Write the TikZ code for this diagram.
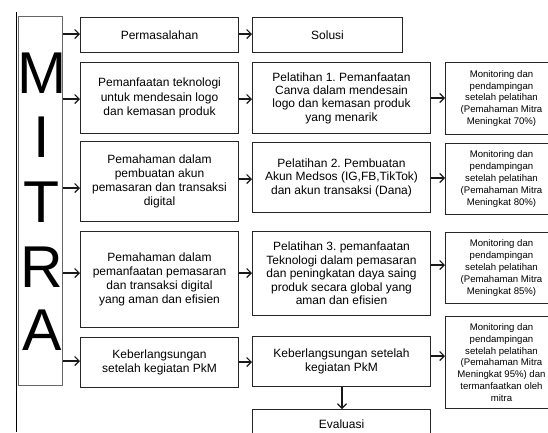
\documentclass[tikz,border=0pt]{standalone}
\usepackage{fontspec}
\setmainfont{Liberation Sans}
\usetikzlibrary{arrows.meta}
\frenchspacing
\begin{document}
\begin{tikzpicture}[x=1pt,y=-1pt,
  box/.style={draw=black!85,line width=1pt,anchor=north west,inner sep=1pt,align=center,font=\fontsize{12}{14.2}\selectfont},
  sbox/.style={draw=black!85,line width=1pt,anchor=north west,inner sep=1pt,align=center,font=\fontsize{9.6}{11.9}\selectfont},
  arr/.style={-{Straight Barb[length=4.5pt,width=9pt]},line width=1.1pt,black!90},
  big/.style={anchor=base,inner sep=0pt,font=\fontsize{59}{59}\selectfont}]
\useasboundingbox (0,0) rectangle (548,432);
\fill[white] (0,0) rectangle (548,432);
\draw[line width=0.9pt] (16,12) -- (16,432);
% MITRA
\node[draw=black!60,line width=0.8pt,anchor=north west,minimum width=44pt,minimum height=369pt,inner sep=0pt] (mitra) at (18,16) {};
\node[big] (lm) at (42,93) {M};
\node[big] (li) at (42,157) {I};
\node[big] (lt) at (42,222) {T};
\node[big] (lr) at (42,287) {R};
\node[big] (la) at (42,350) {A};
% column 1
\node[box,minimum width=158pt,minimum height=35pt] (a1) at (80,17) {Permasalahan};
\node[box,minimum width=158pt,minimum height=71pt] (a2) at (80,62) {Pemanfaatan teknologi\\untuk mendesain logo\\dan kemasan produk};
\node[box,minimum width=158pt,minimum height=80pt] (a3) at (80,141) {Pemahaman dalam\\pembuatan akun\\pemasaran dan transaksi\\digital};
\node[box,minimum width=158pt,minimum height=96pt] (a4) at (80,231) {Pemahaman dalam\\pemanfaatan pemasaran\\dan transaksi digital\\yang aman dan efisien};
\node[box,minimum width=158pt,minimum height=50pt] (a5) at (80,337) {Keberlangsungan\\setelah kegiatan PkM};
% column 2
\node[box,minimum width=150pt,minimum height=35pt] (b1) at (252,17) {Solusi};
\node[box,minimum width=178pt,minimum height=71pt,font=\fontsize{12}{13.4}\selectfont] (b2) at (252,62) {Pelatihan 1. Pemanfaatan\\Canva dalam mendesain\\logo dan kemasan produk\\yang menarik};
\node[box,minimum width=178pt,minimum height=70pt,font=\fontsize{12}{13.4}\selectfont] (b3) at (252,142) {Pelatihan 2. Pembuatan\\Akun Medsos (IG,FB,TikTok)\\dan akun transaksi (Dana)};
\node[box,minimum width=178pt,minimum height=84pt,font=\fontsize{12}{13.4}\selectfont] (b4) at (252,231) {Pelatihan 3. pemanfaatan\\Teknologi dalam pemasaran\\dan peningkatan daya saing\\produk secara global yang\\aman dan efisien};
\node[box,minimum width=178pt,minimum height=50pt,font=\fontsize{12}{14.6}\selectfont] (b5) at (252,336) {Keberlangsungan setelah\\kegiatan PkM};
\node[box,minimum width=178pt,minimum height=30pt] (ev) at (252,409) {Evaluasi};
% column 3
\node[sbox,minimum width=112pt,minimum height=72pt] (c2) at (445,62) {Monitoring dan\\pendampingan\\setelah pelatihan\\(Pemahaman Mitra\\Meningkat 70\%)};
\node[sbox,minimum width=112pt,minimum height=71pt] (c3) at (445,143) {Monitoring dan\\pendampingan\\setelah pelatihan\\(Pemahaman Mitra\\Meningkat 80\%)};
\node[sbox,minimum width=112pt,minimum height=71pt] (c4) at (445,232) {Monitoring dan\\pendampingan\\setelah pelatihan\\(Pemahaman Mitra\\Meningkat 85\%)};
\node[sbox,minimum width=112pt,minimum height=92pt] (c5) at (445,316) {Monitoring dan\\pendampingan\\setelah pelatihan\\(Pemahaman Mitra\\Meningkat 95\%) dan\\termanfaatkan oleh\\mitra};
% arrows mitra -> col1
\draw[arr] (mitra.east |- 0,34) -- (a1.west |- 0,34);
\draw[arr] (mitra.east |- 0,99) -- (a2.west |- 0,99);
\draw[arr] (mitra.east |- 0,188) -- (a3.west |- 0,188);
\draw[arr] (mitra.east |- 0,273) -- (a4.west |- 0,273);
\draw[arr] (mitra.east |- 0,361) -- (a5.west |- 0,361);
% col1 -> col2
\draw[arr] (a1.east |- 0,34) -- (b1.west |- 0,34);
\draw[arr] (a2.east |- 0,99) -- (b2.west |- 0,99);
\draw[arr] (a3.east |- 0,179) -- (b3.west |- 0,179);
\draw[arr] (a4.east |- 0,273) -- (b4.west |- 0,273);
\draw[arr] (a5.east |- 0,362) -- (b5.west |- 0,362);
% col2 -> col3
\draw[arr] (b2.east |- 0,98) -- (c2.west |- 0,98);
\draw[arr] (b3.east |- 0,178) -- (c3.west |- 0,178);
\draw[arr] (b4.east |- 0,265) -- (c4.west |- 0,265);
\draw[arr] (b5.east |- 0,356) -- (c5.west |- 0,356);
% down
\draw[arr] (b5.south -| 342,0) -- (ev.north -| 342,0);
\end{tikzpicture}
\end{document}
